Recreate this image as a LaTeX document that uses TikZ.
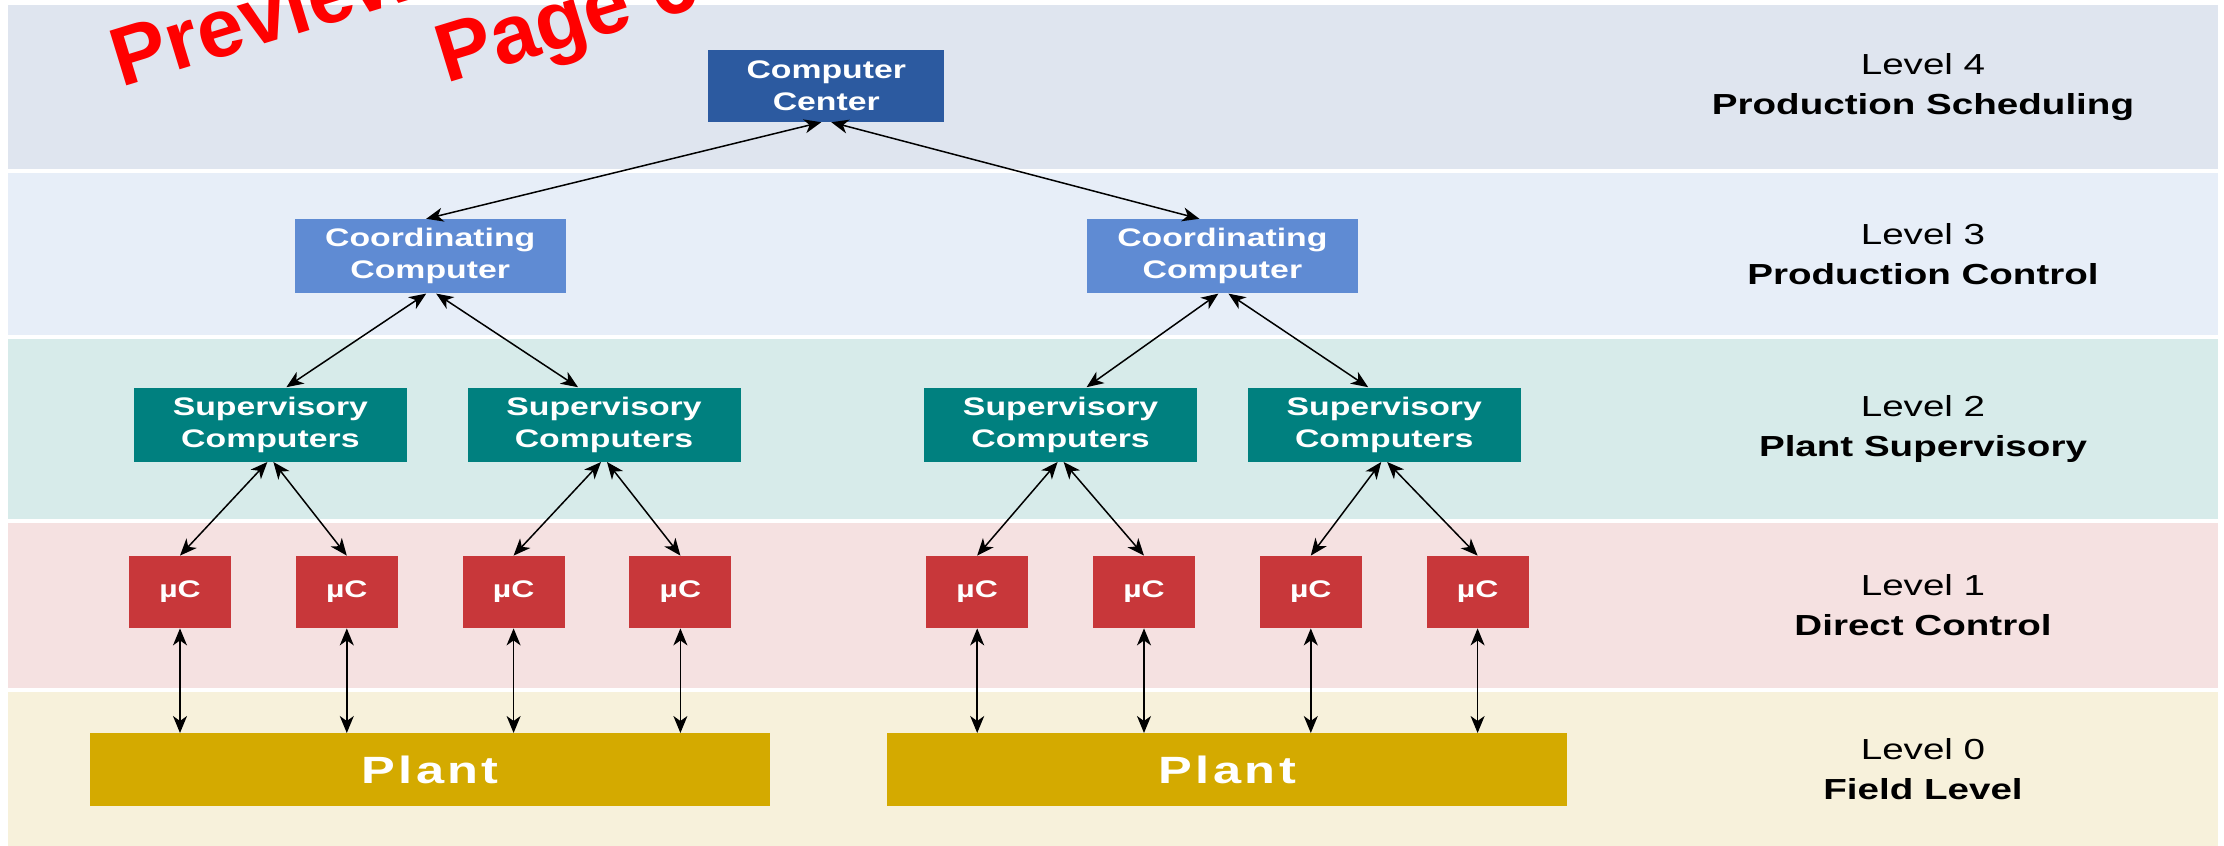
\documentclass[tikz,border=0pt]{standalone}
\usepackage{fontspec}
\setmainfont{Liberation Sans}[FakeStretch=1.33]
\newfontfamily\plantfont{Liberation Sans}[FakeStretch=1.33,LetterSpace=9]
\newfontfamily\markfont{Liberation Sans}
\usepackage{xcolor}
\usetikzlibrary{positioning,arrows.meta,calc}

\definecolor{lvfour}{HTML}{DFE5EF}
\definecolor{lvthree}{HTML}{E7EEF8}
\definecolor{lvtwo}{HTML}{D7EBEA}
\definecolor{lvone}{HTML}{F5E1E1}
\definecolor{lvzero}{HTML}{F7F1DB}
\definecolor{ccblue}{HTML}{2C5AA0}
\definecolor{crdblue}{HTML}{5F8BD3}
\definecolor{supteal}{HTML}{00807F}
\definecolor{mcred}{HTML}{C8373A}
\definecolor{plantgold}{HTML}{D4AA00}
\definecolor{wmred}{HTML}{FF0000}

\begin{document}
\begin{tikzpicture}[
  x=0.5pt, y=-0.5pt,
  node distance=65pt and 32pt,
  box/.style={align=center, text=white, inner sep=0pt, font=\fontsize{12.7}{16}\selectfont\bfseries},
  ccbox/.style={box, fill=ccblue, minimum width=118pt, minimum height=36pt},
  crdbox/.style={box, fill=crdblue, minimum width=135.5pt, minimum height=37pt},
  supbox/.style={box, fill=supteal, minimum width=136.5pt, minimum height=37pt},
  mcbox/.style={box, fill=mcred, minimum width=51pt, minimum height=36pt, font=\fontsize{12}{14}\selectfont\bfseries},
  plantbox/.style={box, fill=plantgold, minimum width=340pt, minimum height=36.5pt, font=\fontsize{19}{22}\selectfont\plantfont\bfseries},
  lvl/.style={align=center, font=\fontsize{14.5}{20}\selectfont},
  wmark/.style={anchor=base west, inner sep=0pt, rotate=17, text=wmred, font=\fontsize{41.5}{44}\selectfont\markfont\bfseries},
  link/.style={{Stealth[length=8.5pt,width=7pt,inset=2.5pt]}-{Stealth[length=8.5pt,width=7pt,inset=2.5pt]}, line width=0.75pt}
]
\path[use as bounding box] (0,0) rectangle (2224,846);
\clip (0,0) rectangle (2224,846);
\fill[white] (0,0) rectangle (2224,846);

% level bands
\fill[lvfour] (8,5) rectangle (2218,169);
\fill[lvthree] (8,173) rectangle (2218,335);
\fill[lvtwo] (8,339) rectangle (2218,519);
\fill[lvone] (8,523) rectangle (2218,688);
\fill[lvzero] (8,692) rectangle (2218,846);

\node[wmark] (wm1) at (121,88) {Preview};
\node[wmark] (wm2) at (446,84) {Page 6};

% direct control
\node[mcbox] (mc1) at (180,592) {µC};
\node[mcbox, right=of mc1] (mc2) {µC};
\node[mcbox, right=of mc2] (mc3) {µC};
\node[mcbox, right=of mc3] (mc4) {µC};
\node[mcbox, right=97pt of mc4] (mc5) {µC};
\node[mcbox, right=of mc5] (mc6) {µC};
\node[mcbox, right=of mc6] (mc7) {µC};
\node[mcbox, right=of mc7] (mc8) {µC};

% field level
\node[plantbox, below=70.5pt of $(mc2)!0.5!(mc3)$] (plantL) {Plant};
\node[plantbox, below=70.5pt of $(mc6)!0.5!(mc7)$] (plantR) {Plant};

% supervisory, coordinating, center
\node[supbox, above=65pt of $(mc1)!0.5!(mc2)$, xshift=3.5pt] (supA) {Supervisory\\Computers};
\node[supbox, above=65pt of $(mc3)!0.5!(mc4)$, xshift=3.5pt] (supB) {Supervisory\\Computers};
\node[supbox, above=65pt of $(mc5)!0.5!(mc6)$] (supC) {Supervisory\\Computers};
\node[supbox, above=65pt of $(mc7)!0.5!(mc8)$, xshift=-5pt] (supD) {Supervisory\\Computers};
\node[crdbox, above=65.5pt of $(supA)!0.5!(supB)$, xshift=-3.5pt] (crdL) {Coordinating\\Computer};
\node[crdbox, above=65.5pt of $(supC)!0.5!(supD)$] (crdR) {Coordinating\\Computer};
\node[ccbox, above=67pt of $(crdL)!0.5!(crdR)$] (cc) {Computer\\Center};

% level names
\node[lvl] (lv4) at (1923,87) {Level 4\\\textbf{Production Scheduling}};
\node[lvl] (lv3) at (1923,254) {Level 3\\\textbf{Production Control}};
\node[lvl] (lv2) at (1923,429) {Level 2\\\textbf{Plant Supervisory}};
\node[lvl] (lv1) at (1923,605) {Level 1\\\textbf{Direct Control}};
\node[lvl] (lv0) at (1923,769) {Level 0\\\textbf{Field Level}};

\draw[link] ([xshift=-2pt]crdL.north) -- ([xshift=-2.5pt]cc.south);
\draw[link] ([xshift=-11.5pt]crdR.north) -- ([xshift=2.5pt]cc.south);

\draw[link] ([xshift=-2pt]crdL.south) -- ([xshift=8pt]supA.north);
\draw[link] ([xshift=3pt]crdL.south) -- ([xshift=-13pt]supB.north);
\draw[link] ([xshift=-2pt]crdR.south) -- ([xshift=13pt]supC.north);
\draw[link] ([xshift=3pt]crdR.south) -- ([xshift=-8pt]supD.north);

\draw[link] ([xshift=-1.5pt]supA.south) -- (mc1.north);
\draw[link] ([xshift=1.5pt]supA.south) -- (mc2.north);
\draw[link] ([xshift=-1.5pt]supB.south) -- (mc3.north);
\draw[link] ([xshift=1.5pt]supB.south) -- (mc4.north);
\draw[link] ([xshift=-1.5pt]supC.south) -- (mc5.north);
\draw[link] ([xshift=1.5pt]supC.south) -- (mc6.north);
\draw[link] ([xshift=-1.5pt]supD.south) -- (mc7.north);
\draw[link] ([xshift=1.5pt]supD.south) -- (mc8.north);

\draw[link] (mc1.south) -- (mc1 |- plantL.north);
\draw[link] (mc2.south) -- (mc2 |- plantL.north);
\draw[link] (mc3.south) -- (mc3 |- plantL.north);
\draw[link] (mc4.south) -- (mc4 |- plantL.north);
\draw[link] (mc5.south) -- (mc5 |- plantR.north);
\draw[link] (mc6.south) -- (mc6 |- plantR.north);
\draw[link] (mc7.south) -- (mc7 |- plantR.north);
\draw[link] (mc8.south) -- (mc8 |- plantR.north);
\end{tikzpicture}
\end{document}
